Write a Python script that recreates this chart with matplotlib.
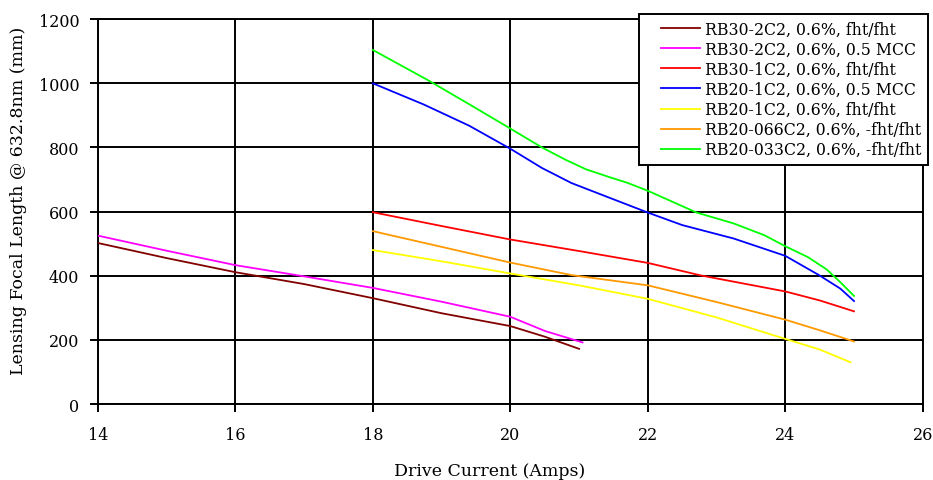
import numpy as np
import matplotlib
matplotlib.use('Agg')
import matplotlib.pyplot as plt
from matplotlib.legend_handler import HandlerLine2D
from matplotlib.lines import Line2D

plt.rcParams['font.family'] = ['DejaVu Serif', 'Liberation Serif']

# drive current (A) and lensing focal length (mm)
x_rb30_2c2_fht = [14, 15, 16, 17, 18, 19, 20, 20.5, 21.0]
y_rb30_2c2_fht = [502, 455, 411, 374, 330, 283, 243, 210, 172]

x_rb30_2c2_mcc = [14, 15, 16, 17, 18, 19, 20, 20.5, 21.05]
y_rb30_2c2_mcc = [525, 478, 433, 398, 362, 319, 272, 228, 192]

x_rb30_1c2_fht = [18, 19, 20, 21, 22, 22.77, 24, 24.5, 25]
y_rb30_1c2_fht = [598, 555, 513, 477, 440, 401, 351, 323, 289]

x_rb20_1c2_mcc = [18, 18.74, 19.4, 20, 20.46, 20.89, 21.42, 22, 22.5, 23.25, 24, 24.49, 24.8, 25]
y_rb20_1c2_mcc = [1000, 934, 868, 796, 736, 689, 645, 597, 558, 516, 462, 402, 360, 321]

x_rb20_1c2_fht = [18, 19, 20, 21, 22, 23, 24, 24.5, 24.95]
y_rb20_1c2_fht = [480, 445, 407, 370, 328, 270, 203, 170, 130]

x_rb20_066 = [18, 19, 20, 20.89, 22, 23, 24, 24.5, 25]
y_rb20_066 = [539, 490, 441, 402, 370, 318, 263, 230, 195]

x_rb20_033 = [18, 18.8, 19.4, 20, 20.46, 20.8, 21.1, 21.42, 21.7, 22, 22.71, 23.25, 23.7, 24, 24.33, 24.6, 24.8, 25]
y_rb20_033 = [1104, 1010, 935, 859, 800, 762, 732, 709, 690, 665, 597, 563, 526, 492, 458, 420, 380, 337]

series = [
    (x_rb30_2c2_fht, y_rb30_2c2_fht, '#800000', 'RB30-2C2, 0.6%, fht/fht'),
    (x_rb30_2c2_mcc, y_rb30_2c2_mcc, '#FF00FF', 'RB30-2C2, 0.6%, 0.5 MCC'),
    (x_rb30_1c2_fht, y_rb30_1c2_fht, '#FF0000', 'RB30-1C2, 0.6%, fht/fht'),
    (x_rb20_1c2_mcc, y_rb20_1c2_mcc, '#0000FF', 'RB20-1C2, 0.6%, 0.5 MCC'),
    (x_rb20_1c2_fht, y_rb20_1c2_fht, '#FFFF00', 'RB20-1C2, 0.6%, fht/fht'),
    (x_rb20_066, y_rb20_066, '#FF9900', 'RB20-066C2, 0.6%, -fht/fht'),
    (x_rb20_033, y_rb20_033, '#00FF00', 'RB20-033C2, 0.6%, -fht/fht'),
]

fig = plt.figure(figsize=(9.33, 4.81), dpi=100)
ax = fig.add_axes([0.105, 0.158, 0.884, 0.8])

for xs, ys, c, lab in series:
    ax.plot(xs, ys, color=c, lw=1.3, label=lab, zorder=3)

ax.set_xlim(14, 26)
ax.set_ylim(0, 1200)
ax.set_xticks(np.arange(14, 27, 2))
ax.set_yticks(np.arange(0, 1201, 200))
ax.grid(True, color='black', lw=1.4)
for s in ax.spines.values():
    s.set_color('black')
    s.set_linewidth(1.4)
ax.tick_params(direction='out', width=1.4, labelsize=11.5)
ax.tick_params(axis='x', length=5.5, pad=10)
ax.tick_params(axis='y', length=5.5, pad=8)

ax.set_xlabel('Drive Current (Amps)', fontsize=12.5)
ax.set_ylabel('Lensing Focal Length @ 632.8nm (mm)', fontsize=12.5)
ax.xaxis.set_label_coords(0.475, -0.15)
ax.yaxis.set_label_coords(-0.086, 0.53)

leg = ax.legend(loc='upper right', bbox_to_anchor=(1.006, 1.013), fontsize=11.3,
                frameon=True, fancybox=False, framealpha=1, edgecolor='black',
                handlelength=3.45, labelspacing=0.2, borderpad=0.4,
                handletextpad=0.35, borderaxespad=0,
                handler_map={Line2D: HandlerLine2D(xpad=1.0)})
leg.get_frame().set_linewidth(1.4)
leg.set_zorder(5)

fig.savefig('out.png', dpi=100)
